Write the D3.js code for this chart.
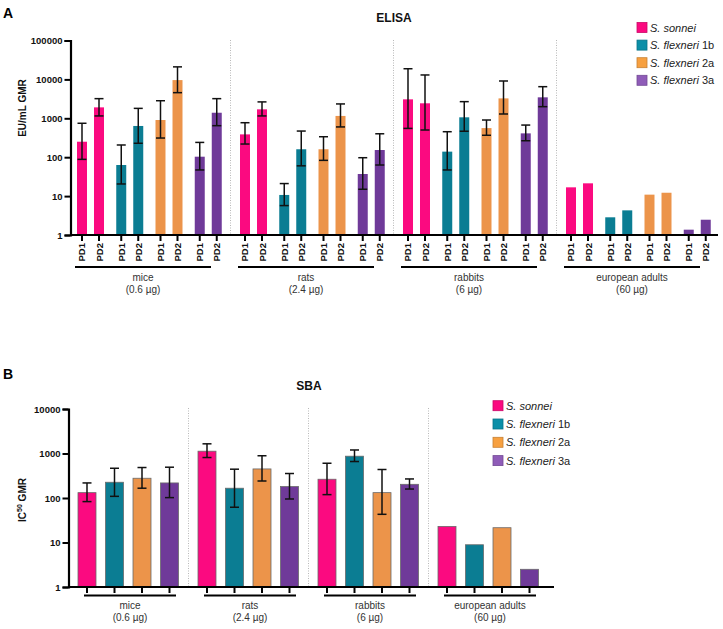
<!DOCTYPE html>
<html>
<head>
<meta charset="utf-8">
<script src="https://cdn.jsdelivr.net/npm/d3@7/dist/d3.min.js"></script>
<style>
  body { margin: 0; background: #fff; }
  svg { display: block; font-family: "Liberation Sans", Arial, sans-serif; }
</style>
</head>
<body>
<svg id="chart" width="723" height="629"></svg>
<script>
// ---------------- data ----------------
const groups = ["mice", "rats", "rabbits", "european adults"];
const doses = ["(0.6 µg)", "(2.4 µg)", "(6 µg)", "(60 µg)"];
const strains = ["sonnei", "1b", "2a", "3a"];
const strainItalic = ["S. sonnei", "S. flexneri", "S. flexneri", "S. flexneri"];
const strainSuffix = ["", " 1b", " 2a", " 3a"];
const timepoints = ["PD1", "PD2"];
const yTicks = [1, 10, 100, 1000, 10000, 100000];
const yTicksB = [1, 10, 100, 1000, 10000];

// ELISA GMR per group: sonnei PD1, PD2, 1b PD1, PD2, 2a PD1, PD2, 3a PD1, PD2
const elisaGMR = [
  [250, 1910, 63, 635, 904, 9600, 103, 1390],
  [386, 1700, 10.7, 160, 160, 1150, 37, 153],
  [3070, 2430, 139, 1060, 560, 3250, 410, 3460],
  [16.8, 21.3, 2.85, 4.3, 10.9, 12.2, 1.37, 2.47]
];
const elisaUpper = [
  [745, 3200, 206, 1800, 2830, 21000, 240, 3200],
  [770, 2640, 21, 470, 336, 2340, 97, 400],
  [18800, 13000, 452, 2680, 904, 9100, 670, 6500],
  null
];
const elisaLower = [
  [88, 1150, 20.5, 228, 311, 4560, 47, 646],
  [218, 1150, 5.7, 60, 83, 600, 15, 63],
  [550, 500, 47, 465, 366, 1290, 265, 1990],
  null
];

// SBA GMR per group: sonnei, 1b, 2a, 3a
const sbaGMR = [
  [132, 226, 278, 218],
  [1127, 166, 450, 181],
  [264, 870, 132, 203],
  [23, 8.9, 21.5, 2.5]
];
const sbaUpper = [
  [218, 466, 484, 492],
  [1650, 444, 890, 355],
  [604, 1200, 437, 268],
  null
];
const sbaLower = [
  [83, 109, 166, 102],
  [812, 62, 241, 95],
  [119, 660, 43, 159],
  null
];

// ---------------- styles ----------------
const colors = { sonnei: "#fb0a80", "1b": "#0b7d93", "2a": "#ec944a", "3a": "#6f3a99" };
const legendColors = { sonnei: "#fb0a80", "1b": "#0b8fa8", "2a": "#f7a040", "3a": "#8f5cb8" };

const svg = d3.select("#chart");

function yAxis(g, y, ticks, x) {
  const ax = d3.axisLeft(y).tickValues(ticks).tickFormat(d3.format("d")).tickSize(6).tickPadding(2);
  const a = g.append("g").attr("transform", `translate(${x},0)`).call(ax);
  a.select(".domain").attr("stroke", "#000").attr("stroke-width", 2.2);
  a.selectAll(".tick line").attr("stroke", "#000").attr("stroke-width", 2);
  a.selectAll(".tick text").attr("fill", "#111").attr("font-size", 9.5).attr("font-weight", "bold")
    .attr("font-family", "'Liberation Sans', Arial, sans-serif");
}

function errorBars(g, cx, y, up, lo, cap) {
  g.append("line").attr("x1", cx).attr("x2", cx).attr("y1", y(up)).attr("y2", y(lo))
    .attr("stroke", "#111").attr("stroke-width", 1.5);
  [up, lo].forEach(v => {
    g.append("line").attr("x1", cx - cap).attr("x2", cx + cap).attr("y1", y(v)).attr("y2", y(v))
      .attr("stroke", "#111").attr("stroke-width", 1.5);
  });
}

function legend(g, x, y0, step, size) {
  strains.forEach((s, i) => {
    const yy = y0 + i * step;
    g.append("rect").attr("x", x).attr("y", yy - size / 2).attr("width", size).attr("height", size)
      .attr("fill", legendColors[s]).attr("stroke", d3.color(legendColors[s]).darker(0.6)).attr("stroke-width", 0.8);
    const t = g.append("text").attr("x", x + size + 3).attr("y", yy + 4).attr("font-size", 11).attr("fill", "#222");
    t.append("tspan").attr("font-style", "italic").text(strainItalic[i]);
    t.append("tspan").text(strainSuffix[i]);
  });
}

// ================= Panel A: ELISA =================
const gA = svg.append("g");
const yA = d3.scaleLog().domain([1, 100000]).range([235, 40.5]);
const x0A = d3.scaleBand().domain(groups).range([77, 77 + 4 * 163]).padding(0);
const x1A = d3.scaleBand().domain(strains).range([0, 157]).padding(0);
const x2A = d3.scaleBand().domain(timepoints).range([0, 27]).paddingInner(0.412).paddingOuter(0);

gA.append("text").attr("x", 3).attr("y", 18).attr("font-size", 14).attr("font-weight", "bold").text("A");
gA.append("text").attr("x", 394).attr("y", 22).attr("text-anchor", "middle").attr("font-size", 12)
  .attr("font-weight", "bold").attr("fill", "#111").text("ELISA");

// separators
groups.slice(1).forEach(gr => {
  gA.append("line").attr("x1", x0A(gr) - 9.5).attr("x2", x0A(gr) - 9.5).attr("y1", 40).attr("y2", 235)
    .attr("stroke", "#b8b8b8").attr("stroke-width", 1).attr("stroke-dasharray", "1,1.5");
});

groups.forEach((gr, gi) => {
  strains.forEach((s, si) => {
    timepoints.forEach((tp, ti) => {
      const k = si * 2 + ti;
      const v = elisaGMR[gi][k];
      const bx = x0A(gr) + x1A(s) + x2A(tp);
      const bw = x2A.bandwidth();
      gA.append("rect").attr("x", bx).attr("y", yA(v)).attr("width", bw).attr("height", yA(1) - yA(v))
        .attr("fill", colors[s]);
      if (elisaUpper[gi]) errorBars(gA, bx + bw / 2, yA, elisaUpper[gi][k], elisaLower[gi][k], 4.5);
      // x tick
      const cx = bx + bw / 2;
      gA.append("line").attr("x1", cx).attr("x2", cx).attr("y1", 235).attr("y2", 241)
        .attr("stroke", "#000").attr("stroke-width", 2);
      gA.append("text").attr("transform", `translate(${cx + 3.5},243) rotate(-90)`)
        .attr("text-anchor", "end").attr("font-size", 9.5).attr("font-weight", "bold").attr("fill", "#111").text(tp);
    });
  });
  const lx1 = x0A(gr) - 2, lx2 = x0A(gr) + 134;
  gA.append("line").attr("x1", lx1).attr("x2", lx2).attr("y1", 267).attr("y2", 267)
    .attr("stroke", "#000").attr("stroke-width", 2);
  gA.append("text").attr("x", (lx1 + lx2) / 2).attr("y", 281).attr("text-anchor", "middle")
    .attr("font-size", 10).attr("fill", "#333").text(gr);
  gA.append("text").attr("x", (lx1 + lx2) / 2).attr("y", 293).attr("text-anchor", "middle")
    .attr("font-size", 10).attr("fill", "#333").text(doses[gi]);
});

// x axis line
gA.append("line").attr("x1", 70).attr("x2", 718).attr("y1", 235).attr("y2", 235).attr("stroke", "#000").attr("stroke-width", 2.2);
yAxis(gA, yA, yTicks, 70.5);
gA.append("text").attr("transform", "translate(26,108) rotate(-90)").attr("text-anchor", "middle")
  .attr("font-size", 10).attr("font-weight", "bold").attr("fill", "#111").text("EU/mL GMR");
legend(gA, 637, 27.5, 17.6, 10);

// ================= Panel B: SBA =================
const gB = svg.append("g");
const yB = d3.scaleLog().domain([1, 10000]).range([587, 409]);
const x0B = d3.scaleBand().domain(groups).range([78, 78 + 4 * 120]).padding(0);
const x1B = d3.scaleBand().domain(strains).range([0, 100.5]).paddingInner(0.3455).paddingOuter(0);

gB.append("text").attr("x", 3).attr("y", 379).attr("font-size", 14).attr("font-weight", "bold").text("B");
gB.append("text").attr("x", 309).attr("y", 390).attr("text-anchor", "middle").attr("font-size", 12)
  .attr("font-weight", "bold").attr("fill", "#111").text("SBA");

groups.slice(1).forEach(gr => {
  gB.append("line").attr("x1", x0B(gr) - 9.5).attr("x2", x0B(gr) - 9.5).attr("y1", 408).attr("y2", 587)
    .attr("stroke", "#b8b8b8").attr("stroke-width", 1).attr("stroke-dasharray", "1,1.5");
});

groups.forEach((gr, gi) => {
  strains.forEach((s, si) => {
    const v = sbaGMR[gi][si];
    const bx = x0B(gr) + x1B(s);
    const bw = x1B.bandwidth();
    gB.append("rect").attr("x", bx).attr("y", yB(v)).attr("width", bw).attr("height", yB(1) - yB(v))
      .attr("fill", colors[s]).attr("stroke", "#6a6a6a").attr("stroke-width", 0.8);
    if (sbaUpper[gi]) errorBars(gB, bx + bw / 2, yB, sbaUpper[gi][si], sbaLower[gi][si], 4.5);
    const cx = bx + bw / 2;
    gB.append("line").attr("x1", cx).attr("x2", cx).attr("y1", 587).attr("y2", 593)
      .attr("stroke", "#000").attr("stroke-width", 2);
  });
  const lx1 = x0B(gr) + 6, lx2 = x0B(gr) + 98;
  gB.append("line").attr("x1", lx1).attr("x2", lx2).attr("y1", 595.5).attr("y2", 595.5)
    .attr("stroke", "#000").attr("stroke-width", 2);
  gB.append("text").attr("x", (lx1 + lx2) / 2).attr("y", 609).attr("text-anchor", "middle")
    .attr("font-size", 10).attr("fill", "#333").text(gr);
  gB.append("text").attr("x", (lx1 + lx2) / 2).attr("y", 621).attr("text-anchor", "middle")
    .attr("font-size", 10).attr("fill", "#333").text(doses[gi]);
});

gB.append("line").attr("x1", 68).attr("x2", 554).attr("y1", 587).attr("y2", 587).attr("stroke", "#000").attr("stroke-width", 2.2);
yAxis(gB, yB, yTicksB, 68.5);
const yl = gB.append("text").attr("transform", "translate(26,500) rotate(-90)").attr("text-anchor", "middle")
  .attr("font-size", 10).attr("font-weight", "bold").attr("fill", "#111");
yl.append("tspan").text("IC");
yl.append("tspan").attr("font-size", 7).attr("dy", -4).text("50");
yl.append("tspan").attr("dy", 4).text(" GMR");
legend(gB, 493, 405.7, 18.3, 10);
</script>
</body>
</html>
